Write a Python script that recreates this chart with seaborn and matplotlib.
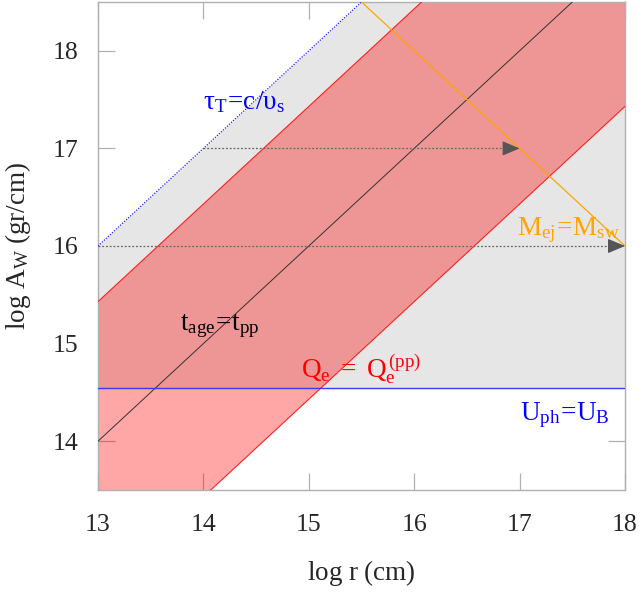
import matplotlib
matplotlib.use("Agg")
import matplotlib.pyplot as plt
import seaborn as sns
import numpy as np

# ---- data ----
x_range = [13, 18]
y_range = [13.5, 18.5]
x_ticks = [13, 14, 15, 16, 17, 18]
y_ticks = [14, 15, 16, 17, 18]

# tau_T = c/v_s boundary (blue dotted)
tau_x = [12.0, 16.0]
tau_y = [15.0, 19.0]
# U_ph = U_B level (blue horizontal)
uph_level = 14.55
# Q_e = Q_e^(pp) band edges (red)
qe_upper_x = [12.0, 17.0]
qe_upper_y = [14.43, 19.43]
qe_lower_x = [13.0, 19.0]
qe_lower_y = [12.43, 18.43]
# t_age = t_pp (black)
tage_x = [12.0, 18.0]
tage_y = [13.0, 19.0]
# M_ej = M_sw (orange)
mej_x = [15.0, 19.0]
mej_y = [19.0, 15.0]
# dotted arrows
arrow_y = [17.0, 16.0]
arrow_start = [14.0, 13.0]
arrow_end = [17.0, 18.0]

sns.set_style("ticks")
plt.rcParams["font.family"] = ["Liberation Serif", "DejaVu Serif"]
plt.rcParams["mathtext.fontset"] = "custom"
plt.rcParams["mathtext.rm"] = "Liberation Serif"
plt.rcParams["mathtext.it"] = "Liberation Serif:italic"

fig = plt.figure(figsize=(6.42, 5.92), dpi=100)
ax = fig.add_axes([98 / 642, 1 - 490 / 592, (625 - 98) / 642, (490 - 2) / 592])

# gray region: above U_ph=U_B, below tau line
ax.fill_between(np.array(tau_x), uph_level, np.array(tau_y), color="#e6e6e6", lw=0, zorder=1)
ax.fill_between([tau_x[1], 20.0], uph_level, [tau_y[1], tau_y[1]], color="#e6e6e6", lw=0, zorder=1)

# red band
bx = np.array([12.0, 19.0])
up = qe_upper_y[0] + (bx - qe_upper_x[0]) * (qe_upper_y[1] - qe_upper_y[0]) / (qe_upper_x[1] - qe_upper_x[0])
lo = qe_lower_y[0] + (bx - qe_lower_x[0]) * (qe_lower_y[1] - qe_lower_y[0]) / (qe_lower_x[1] - qe_lower_x[0])
ax.fill_between(bx, lo, up, color="red", alpha=0.35, lw=0, zorder=2)

# lines
sns.lineplot(x=tau_x, y=tau_y, ax=ax, color="#2020ff", linewidth=0.9, linestyle=(0, (1, 1.2)), zorder=4)
sns.lineplot(x=qe_upper_x, y=qe_upper_y, ax=ax, color="#ff2020", linewidth=0.8, zorder=4)
sns.lineplot(x=qe_lower_x, y=qe_lower_y, ax=ax, color="#ff2020", linewidth=0.8, zorder=4)
sns.lineplot(x=tage_x, y=tage_y, ax=ax, color="#333333", linewidth=0.7, zorder=4)
sns.lineplot(x=mej_x, y=mej_y, ax=ax, color="#ffa500", linewidth=0.9, zorder=4)
ax.axhline(uph_level, color="#3a3aff", linewidth=1.0, zorder=4)

for yv, xs, xe in zip(arrow_y, arrow_start, arrow_end):
    sns.lineplot(x=[xs, xe - 0.05], y=[yv, yv], ax=ax, color="#666666", linewidth=0.9,
                 linestyle=(0, (1.5, 1.5)), zorder=5)
    ax.annotate("", xy=(xe, yv), xytext=(xe - 0.12, yv),
                arrowprops=dict(arrowstyle="-|>,head_length=0.9,head_width=0.38",
                                color="#555555", lw=0.8, mutation_scale=12, shrinkA=0, shrinkB=0),
                zorder=6, annotation_clip=False)

# labels
fs = 19.5
ax.text(14.0, 17.4, r"$\mathrm{τ_T\!=\!c/υ_s}$", color="#0000ff", fontsize=fs, zorder=7)
ax.text(13.78, 15.14, r"$\mathrm{t_{age}\!=\!t_{pp}}$", color="black", fontsize=fs, zorder=7)
ax.text(14.93, 14.65, r"$\mathrm{Q_e\ =\ Q_e^{\,(pp)}}$", color="red", fontsize=fs, zorder=7)
ax.text(16.98, 16.11, r"$\mathrm{M_{ej}\!=\!M_{sw}}$", color="#ffa500", fontsize=fs, zorder=7)
ax.text(17.0, 14.22, r"$\mathrm{U_{ph}\!=\!U_B}$", color="#0000ff", fontsize=fs, zorder=7)

ax.set_xlim(*x_range)
ax.set_ylim(*y_range)
ax.set_xticks(x_ticks)
ax.set_yticks(y_ticks)
ax.tick_params(direction="in", length=12, width=0.9, color="#b0b0b0", labelsize=18.5,
               top=True, right=True, pad=17)
ax.tick_params(axis="y", pad=14)
for s in ax.spines.values():
    s.set_color("#b0b0b0")
    s.set_linewidth(1.0)
    s.set_visible(True)
ax.set_xlabel(r"$\mathrm{log\ r\ (cm)}$", fontsize=19.5, labelpad=16)
ax.set_ylabel(r"$\mathrm{log\ A_W\ (gr/cm)}$", fontsize=19.5, labelpad=14)
ax.grid(False)

fig.savefig("out.png", dpi=100)
